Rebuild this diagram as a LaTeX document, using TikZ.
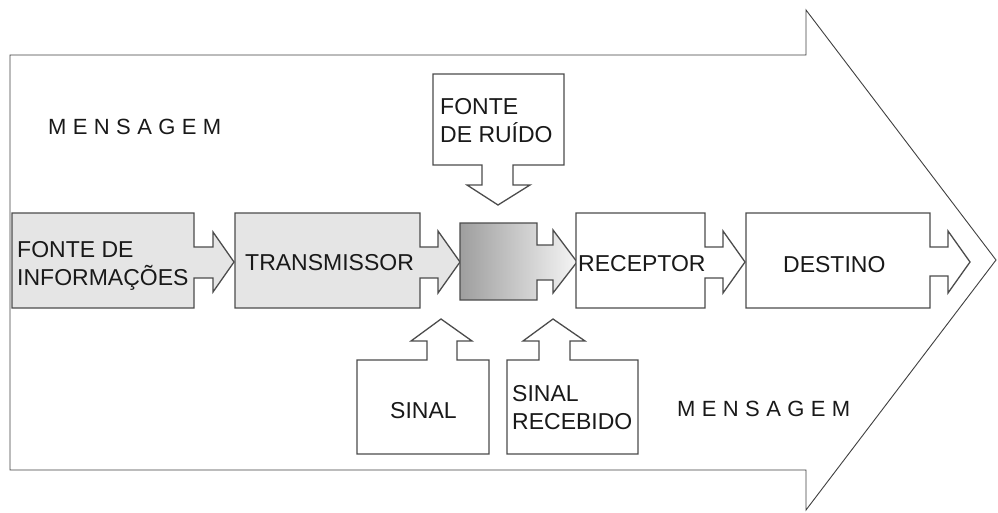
\documentclass[tikz,border=0pt]{standalone}
\usepackage{fontspec}
\setmainfont{Liberation Sans}
\newfontfamily\spaced[LetterSpace=29]{Liberation Sans}
\usepackage{tikz}

\begin{document}
\begin{tikzpicture}[x=1pt, y=-1pt,
  outline/.style={draw=black!75, line width=0.9pt, fill=white},
  blk/.style={draw=black!70, line width=1.3pt, line join=miter},
  grayblk/.style={blk, fill=black!10},
  whiteblk/.style={blk, fill=white},
  chan/.style={blk, left color=black!38, right color=black!4},
  txt/.style={font=\fontsize{23}{28}\selectfont, inner sep=0pt, text=black!90},
  msg/.style={font=\spaced\fontsize{22}{26}\selectfont, inner sep=0pt, text=black!90}
]
\useasboundingbox (0,0) rectangle (998,513);

% big message arrow
\draw[outline] (10,55) -- (806,55) -- (806,10) -- (996,260) -- (806,510) -- (806,470) -- (10,470) -- cycle;

% blocks along the chain
\draw[grayblk] (12,213) -- (194,213) -- (194,247) -- (213,247) -- (213,232) -- (234,262) -- (213,292) -- (213,278) -- (194,278) -- (194,308) -- (12,308) -- cycle;
\draw[grayblk] (235,213) -- (420,213) -- (420,247) -- (438,247) -- (438,231) -- (460,262) -- (438,293) -- (438,278) -- (420,278) -- (420,308) -- (235,308) -- cycle;
\draw[chan] (460,223) -- (537,223) -- (537,245) -- (553,245) -- (553,230) -- (577,262) -- (553,293) -- (553,280) -- (537,280) -- (537,300) -- (460,300) -- cycle;
\draw[whiteblk] (576,213) -- (705,213) -- (705,247) -- (723,247) -- (723,231) -- (745,262) -- (723,293) -- (723,278) -- (705,278) -- (705,308) -- (576,308) -- cycle;
\draw[whiteblk] (746,213) -- (930,213) -- (930,247) -- (948,247) -- (948,231) -- (970,262) -- (948,293) -- (948,276) -- (930,276) -- (930,308) -- (746,308) -- cycle;

% noise source and signals
\draw[whiteblk] (433,74) -- (564,74) -- (564,165) -- (513,165) -- (513,185) -- (530,185) -- (498,205) -- (467,185) -- (482,185) -- (482,165) -- (433,165) -- cycle;
\draw[whiteblk] (357,454) -- (357,360) -- (427,360) -- (427,341) -- (411,341) -- (441,319) -- (472,341) -- (457,341) -- (457,360) -- (489,360) -- (489,454) -- cycle;
\draw[whiteblk] (507,454) -- (507,360) -- (539,360) -- (539,341) -- (523,341) -- (553,319) -- (585,341) -- (570,341) -- (570,360) -- (638,360) -- (638,454) -- cycle;

% labels
\node[txt, anchor=north west, align=left] (fonte) at (17,241) {FONTE DE\\INFORMAÇÕES};
\node[txt, anchor=base west] (trans) at (245,270) {TRANSMISSOR};
\node[txt, anchor=north west, align=left] (ruido) at (440,98) {FONTE\\DE RUÍDO};
\node[txt, anchor=base west] (recep) at (578,271) {RECEPTOR};
\node[txt, anchor=base west] (dest) at (783,272) {DESTINO};
\node[txt, anchor=base west] (sinal) at (390,418) {SINAL};
\node[txt, anchor=north west, align=left] (recebido) at (512,385) {SINAL\\RECEBIDO};
\node[msg, anchor=base west] (msgtop) at (48,135) {MENSAGEM};
\node[msg, anchor=base west] (msgbot) at (677,416) {MENSAGEM};
\end{tikzpicture}
\end{document}
